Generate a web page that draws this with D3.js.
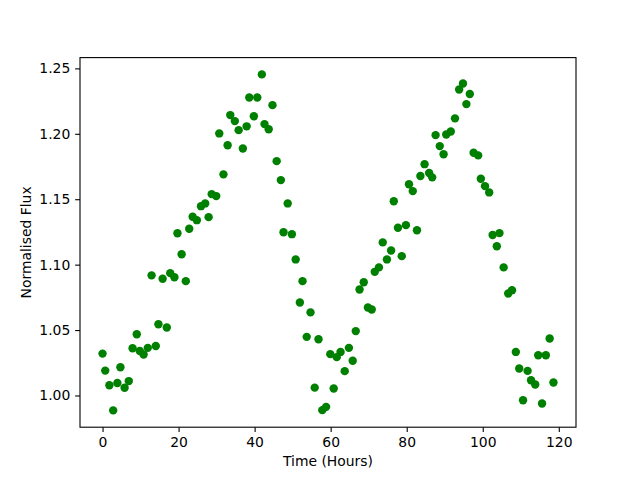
<!DOCTYPE html>
<html>
<head>
<meta charset="utf-8">
<script src="https://cdn.jsdelivr.net/npm/d3@7"></script>
<style>
  body { margin: 0; background: white; }
  svg text { font-family: "DejaVu Sans", sans-serif; fill: black; }
</style>
</head>
<body>
<svg id="chart" width="640" height="480"></svg>
<script>
// time of each measurement (hours)
var times = [0, 0.7, 1.8, 2.8, 3.9, 4.7, 5.8, 6.9, 7.9, 9.0,
    9.8, 10.8, 11.9, 12.9, 14.0, 14.7, 15.8, 16.9, 17.8, 18.9,
    19.7, 20.8, 21.9, 22.8, 23.7, 24.8, 25.9, 27.0, 27.9, 28.7,
    29.9, 30.7, 31.8, 32.9, 33.6, 34.8, 35.8, 36.9, 37.9, 38.6,
    39.8, 40.7, 41.9, 42.6, 43.7, 44.7, 45.8, 46.9, 47.6, 48.7,
    49.8, 50.8, 51.9, 52.6, 53.7, 54.7, 55.8, 56.8, 57.8, 58.8,
    59.9, 60.8, 61.6, 62.6, 63.7, 64.8, 65.8, 66.6, 67.6, 68.7,
    69.8, 70.8, 71.6, 72.7, 73.7, 74.8, 75.9, 76.6, 77.7, 78.7,
    79.8, 80.6, 81.6, 82.7, 83.6, 84.7, 85.9, 86.7, 87.6, 88.7,
    89.7, 90.4, 91.6, 92.7, 93.8, 94.8, 95.7, 96.6, 97.6, 98.8,
    99.5, 100.6, 101.7, 102.6, 103.7, 104.4, 105.5, 106.7, 107.7, 108.7,
    109.6, 110.6, 111.8, 112.7, 113.8, 114.6, 115.6, 116.6, 117.6, 118.6];

// normalised flux
var flux = [1.032, 1.0190, 1.0078, 0.9886, 1.0095, 1.0216, 1.0059, 1.0110, 1.0361, 1.0468,
    1.0340, 1.0313, 1.0364, 1.0918, 1.0378, 1.0545, 1.0892, 1.0520, 1.0935, 1.0904,
    1.1240, 1.1080, 1.0874, 1.1274, 1.1366, 1.1340, 1.1447, 1.1468, 1.1363, 1.1539,
    1.1524, 1.2003, 1.1690, 1.1912, 1.2143, 1.2097, 1.2028, 1.1888, 1.2057, 1.2278,
    1.2134, 1.2278, 1.2454, 1.2074, 1.2035, 1.2219, 1.1791, 1.1646, 1.1248, 1.1468,
    1.1233, 1.1040, 1.0711, 1.0874, 1.0448, 1.0635, 1.0060, 1.0430, 0.9888, 0.9913,
    1.0316, 1.0053, 1.0293, 1.0333, 1.0186, 1.0364, 1.0265, 1.0492, 1.0810, 1.0866,
    1.0673, 1.0657, 1.0945, 1.0979, 1.1170, 1.1040, 1.1108, 1.1485, 1.1282, 1.1065,
    1.1302, 1.1615, 1.1562, 1.1263, 1.1677, 1.1768, 1.1700, 1.1667, 1.1990, 1.1906,
    1.1844, 1.1995, 1.2018, 1.2118, 1.2339, 1.2385, 1.2227, 1.2304, 1.1855, 1.1835,
    1.1656, 1.1600, 1.1552, 1.1226, 1.1141, 1.1241, 1.0979, 1.0780, 1.0805, 1.0333,
    1.0206, 0.9964, 1.0188, 1.0117, 1.0084, 1.0308, 0.9939, 1.0308, 1.0436, 1.0099];

var xTicks = [0, 20, 40, 60, 80, 100, 120];
var yTicks = [1.00, 1.05, 1.10, 1.15, 1.20, 1.25];

var padL = 80, padT = 57.6, w = 496, h = 369.6;
var tickLen = 4.86, fontPx = 13.9;

// matplotlib-style 5% margins
function padded(ext) {
    var d = (ext[1] - ext[0]) * 0.05;
    return [ext[0] - d, ext[1] + d];
}

var x = d3.scaleLinear().domain(padded(d3.extent(times))).range([0, w]);
var y = d3.scaleLinear().domain(padded(d3.extent(flux))).range([h, 0]);

var svg = d3.select('#chart');
var g = svg.append('g').attr('transform', 'translate(' + padL + ',' + padT + ')');

var pts = times.map(function(t, i) { return [t, flux[i]]; });

g.append('g').selectAll('circle').data(pts).enter().append('circle')
    .attr('cx', function(d) { return x(d[0]); })
    .attr('cy', function(d) { return y(d[1]); })
    .attr('r', 4.2)
    .attr('fill', '#008000');

var xAxis = g.append('g')
    .attr('transform', 'translate(0,' + h + ')')
    .call(d3.axisBottom(x).tickValues(xTicks).tickSize(tickLen).tickSizeOuter(0).tickPadding(4.86).tickFormat(d3.format('d')));

var yAxis = g.append('g')
    .call(d3.axisLeft(y).tickValues(yTicks).tickSize(tickLen).tickSizeOuter(0).tickPadding(4.86).tickFormat(d3.format('.2f')));

[xAxis, yAxis].forEach(function(a) {
    a.select('.domain').remove();
    a.selectAll('line').attr('stroke', 'black').attr('stroke-width', 1.1);
    a.selectAll('text').style('font-size', fontPx + 'px').attr('fill', 'black')
        .style('font-family', '"DejaVu Sans", sans-serif');
});

// frame
g.append('rect')
    .attr('width', w).attr('height', h)
    .attr('fill', 'none').attr('stroke', 'black').attr('stroke-width', 1.1);

svg.append('text')
    .attr('x', padL + w / 2)
    .attr('y', 466)
    .attr('text-anchor', 'middle')
    .style('font-size', fontPx + 'px')
    .text('Time (Hours)');

svg.append('text')
    .attr('transform', 'translate(30.5,' + (padT + h / 2) + ') rotate(-90)')
    .attr('text-anchor', 'middle')
    .style('font-size', fontPx + 'px')
    .text('Normalised Flux');
</script>
</body>
</html>
